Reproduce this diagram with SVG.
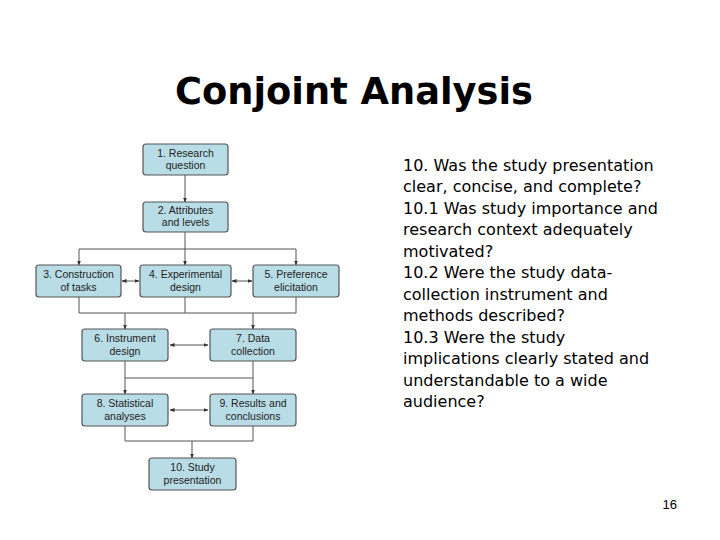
<svg xmlns="http://www.w3.org/2000/svg" width="720" height="540" viewBox="0 0 720 540">
<defs>
<marker id="a" viewBox="0 0 10 10" refX="9" refY="5" markerWidth="5" markerHeight="5" orient="auto-start-reverse"><path d="M0,1 L10,5 L0,9z" fill="#333"/></marker>
<style>
.b{fill:#b9dde6;stroke:#555;stroke-width:1.2}
.t{font-family:"Liberation Sans",Arial,sans-serif;font-size:10.5px;fill:#222;text-anchor:middle}
.c{fill:none;stroke:#555;stroke-width:1}
.r{font-family:"DejaVu Sans",sans-serif;font-size:16px;fill:#000}
</style>
</defs>
<rect width="720" height="540" fill="#fff"/>
<text x="354" y="104" font-family="DejaVu Sans,sans-serif" font-size="38" font-weight="bold" text-anchor="middle" textLength="358" lengthAdjust="spacingAndGlyphs">Conjoint Analysis</text>
<g id="connectors">
<path class="c" d="M185,175 V202" marker-end="url(#a)"/>
<path class="c" d="M185,232 V265" marker-end="url(#a)"/>
<path class="c" d="M79,249 H296"/>
<path class="c" d="M79,249 V265" marker-end="url(#a)"/>
<path class="c" d="M296,249 V265" marker-end="url(#a)"/>
<path class="c" d="M122,281 H139" marker-start="url(#a)" marker-end="url(#a)"/>
<path class="c" d="M232,281 H252" marker-start="url(#a)" marker-end="url(#a)"/>
<path class="c" d="M79,297 V313 H296 V297 M185,297 V313"/>
<path class="c" d="M125,313 V329" marker-end="url(#a)"/>
<path class="c" d="M253,313 V329" marker-end="url(#a)"/>
<path class="c" d="M170,345 H208" stroke="#999" marker-start="url(#a)" marker-end="url(#a)"/>
<path class="c" d="M125,361 V394" marker-end="url(#a)"/>
<path class="c" d="M253,361 V394" marker-end="url(#a)"/>
<path class="c" d="M125,378 H253" stroke-width="2"/>
<path class="c" d="M170,410 H208" stroke-width="2" marker-start="url(#a)" marker-end="url(#a)"/>
<path class="c" d="M125,426 V441 H253 V426 M192,441 V458" marker-end="url(#a)"/>
</g>
<g id="n1"><rect class="b" x="143" y="144" width="85" height="31" rx="3"/><text class="t" x="185.5" y="157">1. Research</text><text class="t" x="185.5" y="169">question</text></g>
<g id="n2"><rect class="b" x="143" y="202" width="85" height="30" rx="3"/><text class="t" x="185.5" y="214">2. Attributes</text><text class="t" x="185.5" y="226">and levels</text></g>
<g id="n3"><rect class="b" x="36" y="265" width="85" height="32" rx="3"/><text class="t" x="78.5" y="278">3. Construction</text><text class="t" x="78.5" y="291">of tasks</text></g>
<g id="n4"><rect class="b" x="140" y="265" width="91" height="32" rx="3"/><text class="t" x="185.5" y="278">4. Experimental</text><text class="t" x="185.5" y="291">design</text></g>
<g id="n5"><rect class="b" x="253" y="265" width="86" height="32" rx="3"/><text class="t" x="296" y="278">5. Preference</text><text class="t" x="296" y="291">elicitation</text></g>
<g id="n6"><rect class="b" x="82" y="329" width="86" height="32" rx="3"/><text class="t" x="125" y="342">6. Instrument</text><text class="t" x="125" y="355">design</text></g>
<g id="n7"><rect class="b" x="210" y="329" width="86" height="32" rx="3"/><text class="t" x="253" y="342">7. Data</text><text class="t" x="253" y="355">collection</text></g>
<g id="n8"><rect class="b" x="82" y="394" width="86" height="32" rx="3"/><text class="t" x="125" y="407">8. Statistical</text><text class="t" x="125" y="420">analyses</text></g>
<g id="n9"><rect class="b" x="210" y="394" width="86" height="32" rx="3"/><text class="t" x="253" y="407">9. Results and</text><text class="t" x="253" y="420">conclusions</text></g>
<g id="n10"><rect class="b" x="149" y="458" width="87" height="32" rx="3"/><text class="t" x="192.5" y="471">10. Study</text><text class="t" x="192.5" y="484">presentation</text></g>
<g class="r">
<text x="403" y="171">10. Was the study presentation</text>
<text x="403" y="192">clear, concise, and complete?</text>
<text x="403" y="214">10.1 Was study importance and</text>
<text x="403" y="235">research context adequately</text>
<text x="403" y="257">motivated?</text>
<text x="403" y="278">10.2 Were the study data-</text>
<text x="403" y="300">collection instrument and</text>
<text x="403" y="321">methods described?</text>
<text x="403" y="343">10.3 Were the study</text>
<text x="403" y="364">implications clearly stated and</text>
<text x="403" y="386">understandable to a wide</text>
<text x="403" y="407">audience?</text>
</g>
<text x="677" y="509" font-family="Liberation Sans,sans-serif" font-size="13" text-anchor="end">16</text>
</svg>
